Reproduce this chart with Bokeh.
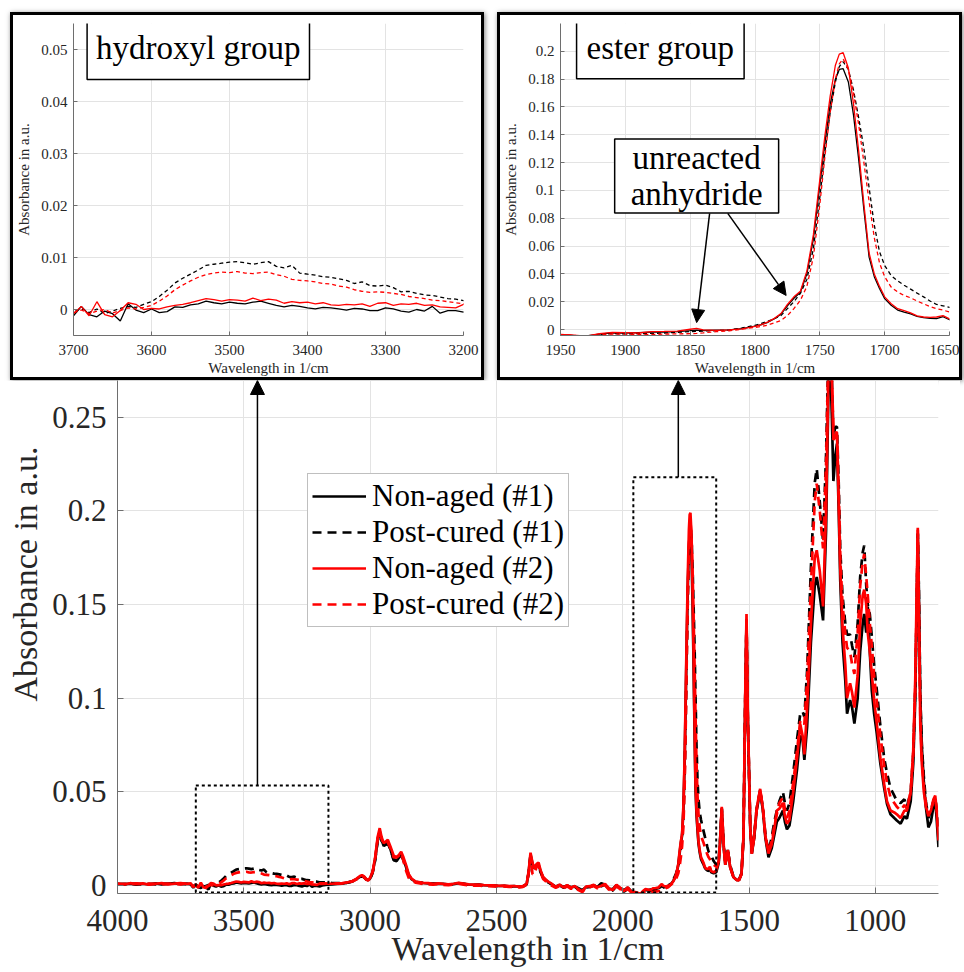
from bokeh.plotting import figure
from bokeh.layouts import row, column
from bokeh.models import (Range1d, FixedTicker, Label, Arrow, NormalHead, Legend,
                          LegendItem, ColumnDataSource, Title)
from bokeh.embed import file_html
from bokeh.resources import INLINE

# ---------------- data (wavenumber in 1/cm, absorbance in a.u.) ----------------
wn_a = [4000, 3975, 3950, 3925, 3900, 3875, 3850, 3825, 3800, 3775, 3750, 3725, 3710]
bs_a = [0.0008, 0.0006, 0.0010, 0.0004, 0.0009, 0.0005, 0.0011, 0.0006, 0.0009, 0.0012, 0.0007, 0.0010, 0.0006]
bd_a = [0.0006, 0.0008, 0.0007, 0.0010, 0.0005, 0.0009, 0.0006, 0.0010, 0.0008, 0.0011, 0.0009, 0.0007, 0.0004]
rs_a = [0.0010, 0.0005, 0.0012, 0.0007, 0.0011, 0.0004, 0.0009, 0.0012, 0.0006, 0.0010, 0.0013, 0.0008, 0.0011]
rd_a = [0.0007, 0.0009, 0.0005, 0.0011, 0.0006, 0.0010, 0.0008, 0.0005, 0.0010, 0.0008, 0.0006, 0.0011, 0.0007]

wn_b = [3700, 3690, 3680, 3670, 3660, 3650, 3640, 3630, 3620, 3610,
        3600, 3590, 3580, 3570, 3560, 3550, 3540, 3530, 3520, 3510,
        3500, 3490, 3480, 3470, 3460, 3450, 3440, 3430, 3420, 3410,
        3400, 3390, 3380, 3370, 3360, 3350, 3340, 3330, 3320, 3310,
        3300, 3290, 3280, 3270, 3260, 3250, 3240, 3230, 3220, 3210, 3200]
bs_b = [-0.0012, 0.0006, -0.0010, -0.0014, -0.0003, -0.0008, -0.0022, 0.0011, -0.0001, -0.0006,
        0.0001, -0.0006, -0.0004, 0.0005, 0.0004, 0.0009, 0.0011, 0.0016, 0.0013, 0.0011,
        0.0014, 0.0012, 0.0011, 0.0014, 0.0016, 0.0012, 0.0008, 0.0005, 0.0008, 0.0006,
        0.0003, 0.0001, 0.0004, 0.0003, 0.0001, -0.0001, 0.0002, 0.0001, -0.0002, -0.0002,
        0.0003, 0.0001, -0.0003, -0.0005, 0.0000, -0.0003, 0.0006, -0.0007, -0.0002, -0.0002, -0.0005]
bd_b = [-0.0004, 0.0002, -0.0006, 0.0001, -0.0008, -0.0003, 0.0002, 0.0006, 0.0004, 0.0010,
        0.0015, 0.0025, 0.0037, 0.0051, 0.0060, 0.0068, 0.0076, 0.0085, 0.0087, 0.0089,
        0.0091, 0.0092, 0.0090, 0.0087, 0.0090, 0.0092, 0.0083, 0.0080, 0.0085, 0.0070,
        0.0068, 0.0066, 0.0063, 0.0062, 0.0059, 0.0056, 0.0050, 0.0053, 0.0046, 0.0045,
        0.0047, 0.0042, 0.0034, 0.0035, 0.0031, 0.0028, 0.0027, 0.0024, 0.0021, 0.0020, 0.0017]
rs_b = [-0.0008, 0.0006, -0.0012, 0.0015, -0.0010, -0.0014, -0.0002, 0.0013, 0.0010, 0.0000,
        0.0002, 0.0001, 0.0005, 0.0008, 0.0010, 0.0013, 0.0017, 0.0021, 0.0019, 0.0016,
        0.0019, 0.0018, 0.0016, 0.0022, 0.0017, 0.0020, 0.0018, 0.0012, 0.0015, 0.0013,
        0.0014, 0.0011, 0.0013, 0.0009, 0.0008, 0.0010, 0.0009, 0.0011, 0.0006, 0.0012,
        0.0013, 0.0008, 0.0011, 0.0010, 0.0012, 0.0008, 0.0009, 0.0005, 0.0004, 0.0003, 0.0010]
rd_b = [-0.0006, -0.0001, -0.0008, -0.0003, 0.0000, -0.0007, -0.0002, 0.0003, 0.0001, 0.0004,
        0.0008, 0.0016, 0.0026, 0.0038, 0.0047, 0.0055, 0.0062, 0.0067, 0.0070, 0.0072,
        0.0071, 0.0073, 0.0070, 0.0069, 0.0071, 0.0072, 0.0067, 0.0064, 0.0058, 0.0056,
        0.0055, 0.0053, 0.0050, 0.0049, 0.0045, 0.0043, 0.0038, 0.0035, 0.0033, 0.0034,
        0.0033, 0.0031, 0.0029, 0.0025, 0.0023, 0.0021, 0.0018, 0.0017, 0.0015, 0.0013, 0.0011]

wn_c = [3190, 3170, 3150, 3130, 3110, 3090, 3070, 3055, 3040, 3032,
        3024, 3016, 3008, 3000, 2990, 2980, 2970, 2962, 2955, 2946,
        2938, 2930, 2920, 2907, 2895, 2885, 2877, 2868, 2858, 2847,
        2835, 2820, 2808, 2790, 2770, 2750, 2730, 2710, 2690, 2670,
        2650, 2630, 2610, 2590, 2570, 2550, 2530, 2510, 2490, 2470,
        2450, 2430, 2410, 2395, 2380, 2372, 2365, 2357, 2349, 2341,
        2333, 2325, 2315, 2307, 2295, 2280, 2265, 2250, 2235, 2220,
        2205, 2190, 2175, 2160, 2145, 2130, 2115, 2100, 2085, 2070,
        2055, 2040, 2025, 2010, 1995, 1980, 1965]
bs_c = [0.0000, 0.0004, 0.0006, 0.0008, 0.0010, 0.0015, 0.0022, 0.0033, 0.0047, 0.0052,
        0.0045, 0.0033, 0.0028, 0.0037, 0.0070, 0.0140, 0.0245, 0.0290, 0.0245, 0.0210,
        0.0220, 0.0230, 0.0195, 0.0135, 0.0130, 0.0150, 0.0165, 0.0140, 0.0100, 0.0055,
        0.0032, 0.0020, 0.0017, 0.0013, 0.0011, 0.0010, 0.0008, 0.0009, 0.0005, 0.0007,
        0.0012, 0.0009, 0.0005, 0.0003, 0.0004, 0.0001, 0.0000, -0.0001, -0.0003, -0.0002,
        -0.0005, -0.0004, -0.0007, -0.0005, 0.0008, 0.0075, 0.0165, 0.0115, 0.0095, 0.0110,
        0.0110, 0.0075, 0.0042, 0.0032, 0.0018, 0.0006, -0.0006, 0.0002, -0.0008, 0.0000,
        -0.0010, -0.0005, -0.0015, -0.0025, -0.0008, -0.0006, 0.0001, -0.0008, 0.0012, 0.0004,
        -0.0018, -0.0020, 0.0002, -0.0015, -0.0025, -0.0012, -0.0032]
bd_c = [0.0017, 0.0015, 0.0013, 0.0012, 0.0012, 0.0015, 0.0022, 0.0032, 0.0046, 0.0050,
        0.0044, 0.0032, 0.0027, 0.0035, 0.0068, 0.0135, 0.0238, 0.0280, 0.0240, 0.0210,
        0.0218, 0.0225, 0.0195, 0.0140, 0.0135, 0.0150, 0.0160, 0.0135, 0.0090, 0.0050,
        0.0030, 0.0018, 0.0016, 0.0012, 0.0010, 0.0008, 0.0009, 0.0006, 0.0004, 0.0007,
        0.0011, 0.0008, 0.0004, 0.0002, 0.0003, 0.0000, -0.0001, -0.0002, -0.0004, -0.0003,
        -0.0006, -0.0005, -0.0008, -0.0006, 0.0006, 0.0070, 0.0160, 0.0110, 0.0090, 0.0100,
        0.0100, 0.0070, 0.0040, 0.0030, 0.0016, 0.0004, -0.0009, 0.0001, -0.0012, -0.0003,
        -0.0014, -0.0006, -0.0022, -0.0030, -0.0010, -0.0008, 0.0000, -0.0012, -0.0004, 0.0005,
        -0.0020, -0.0028, -0.0002, -0.0018, -0.0034, -0.0015, -0.0038]
rs_c = [0.0008, 0.0010, 0.0009, 0.0011, 0.0012, 0.0016, 0.0024, 0.0035, 0.0050, 0.0055,
        0.0048, 0.0035, 0.0030, 0.0040, 0.0075, 0.0150, 0.0260, 0.0306, 0.0260, 0.0225,
        0.0235, 0.0244, 0.0210, 0.0160, 0.0150, 0.0165, 0.0180, 0.0150, 0.0110, 0.0060,
        0.0035, 0.0020, 0.0018, 0.0014, 0.0012, 0.0009, 0.0011, 0.0008, 0.0006, 0.0009,
        0.0014, 0.0010, 0.0006, 0.0004, 0.0005, 0.0002, 0.0001, 0.0000, -0.0002, -0.0001,
        -0.0004, -0.0003, -0.0006, -0.0004, 0.0010, 0.0080, 0.0175, 0.0120, 0.0090, 0.0115,
        0.0122, 0.0080, 0.0045, 0.0035, 0.0020, 0.0008, -0.0008, 0.0004, -0.0010, 0.0002,
        -0.0012, -0.0003, -0.0020, -0.0032, -0.0006, -0.0004, 0.0003, -0.0010, -0.0002, 0.0008,
        -0.0015, -0.0025, 0.0004, -0.0012, -0.0030, -0.0010, -0.0035]
rd_c = [0.0011, 0.0010, 0.0009, 0.0010, 0.0011, 0.0014, 0.0021, 0.0031, 0.0045, 0.0050,
        0.0043, 0.0031, 0.0026, 0.0036, 0.0072, 0.0145, 0.0250, 0.0290, 0.0250, 0.0220,
        0.0225, 0.0230, 0.0200, 0.0150, 0.0150, 0.0160, 0.0175, 0.0130, 0.0080, 0.0040,
        0.0025, 0.0015, 0.0012, 0.0008, 0.0006, 0.0004, 0.0007, 0.0003, 0.0001, 0.0005,
        0.0009, 0.0004, 0.0001, -0.0001, 0.0000, -0.0003, -0.0004, -0.0005, -0.0007, -0.0005,
        -0.0008, -0.0007, -0.0010, -0.0008, 0.0004, 0.0070, 0.0150, 0.0060, 0.0060, 0.0100,
        0.0105, 0.0070, 0.0035, 0.0025, 0.0010, -0.0002, -0.0012, -0.0003, -0.0016, -0.0005,
        -0.0018, -0.0010, -0.0025, -0.0035, -0.0012, -0.0010, -0.0003, -0.0015, -0.0006, 0.0002,
        -0.0022, -0.0030, -0.0004, -0.0020, -0.0036, -0.0018, -0.0040]

wn_d = [1950, 1940, 1930, 1920, 1910, 1900, 1890, 1880, 1870, 1860,
        1850, 1845, 1840, 1830, 1820, 1810, 1800, 1795, 1790, 1785,
        1780, 1775, 1770, 1765, 1760, 1755, 1750, 1746, 1742, 1738,
        1735, 1732, 1728, 1724, 1720, 1716, 1712, 1708, 1704, 1700,
        1695, 1690, 1685, 1680, 1675, 1670, 1665, 1660, 1655, 1650]
bs_d = [-0.0038, -0.0043, -0.0046, -0.0033, -0.0024, -0.0026, -0.0022, -0.0019, -0.0018, -0.0015,
        -0.0008, -0.0004, -0.0007, -0.0005, -0.0003, 0.0006, 0.0024, 0.0036, 0.0052, 0.0078,
        0.0110, 0.0170, 0.0225, 0.0268, 0.0400, 0.0650, 0.1040, 0.1350, 0.1620, 0.1800,
        0.1870, 0.1875, 0.1780, 0.1540, 0.1220, 0.0860, 0.0520, 0.0380, 0.0295, 0.0222,
        0.0175, 0.0140, 0.0125, 0.0112, 0.0095, 0.0085, 0.0080, 0.0078, 0.0092, 0.0070]
bd_d = [-0.0040, -0.0045, -0.0048, -0.0036, -0.0030, -0.0031, -0.0030, -0.0028, -0.0025, -0.0020,
        -0.0015, -0.0013, -0.0011, -0.0008, -0.0004, 0.0012, 0.0030, 0.0045, 0.0060, 0.0078,
        0.0100, 0.0150, 0.0200, 0.0260, 0.0360, 0.0580, 0.0950, 0.1280, 0.1560, 0.1780,
        0.1890, 0.1925, 0.1870, 0.1720, 0.1520, 0.1300, 0.1020, 0.0750, 0.0560, 0.0460,
        0.0388, 0.0350, 0.0318, 0.0290, 0.0262, 0.0235, 0.0205, 0.0180, 0.0170, 0.0160]
rs_d = [-0.0035, -0.0040, -0.0048, -0.0030, -0.0020, -0.0022, -0.0025, -0.0015, -0.0014, -0.0012,
        0.0002, 0.0008, -0.0002, -0.0006, -0.0002, 0.0005, 0.0022, 0.0035, 0.0055, 0.0080,
        0.0115, 0.0180, 0.0235, 0.0275, 0.0420, 0.0680, 0.1080, 0.1400, 0.1680, 0.1900,
        0.1980, 0.1990, 0.1880, 0.1620, 0.1280, 0.0900, 0.0550, 0.0400, 0.0310, 0.0235,
        0.0185, 0.0150, 0.0135, 0.0120, 0.0098, 0.0090, 0.0088, 0.0090, 0.0100, 0.0077]
rd_d = [-0.0036, -0.0042, -0.0050, -0.0038, -0.0032, -0.0034, -0.0036, -0.0035, -0.0033, -0.0031,
        -0.0030, -0.0028, -0.0024, -0.0015, -0.0010, 0.0003, 0.0015, 0.0022, 0.0032, 0.0048,
        0.0065, 0.0100, 0.0150, 0.0210, 0.0310, 0.0520, 0.0900, 0.1250, 0.1560, 0.1800,
        0.1910, 0.1945, 0.1870, 0.1700, 0.1470, 0.1200, 0.0920, 0.0660, 0.0480, 0.0380,
        0.0305, 0.0270, 0.0245, 0.0228, 0.0205, 0.0185, 0.0165, 0.0150, 0.0140, 0.0125]

wn_e = [1640, 1630, 1620, 1615, 1608, 1600, 1594, 1584, 1575, 1562,
        1550, 1540, 1530, 1522, 1515, 1510, 1505, 1495, 1489, 1480,
        1470, 1456, 1445, 1435, 1423, 1410, 1400, 1390, 1380, 1366,
        1358, 1350, 1340, 1325, 1310, 1297, 1288, 1281, 1270, 1255,
        1240, 1232, 1220, 1207, 1195, 1185, 1181, 1172, 1166, 1158,
        1152, 1145, 1139, 1130, 1119, 1112, 1100, 1092, 1083, 1070,
        1060, 1050, 1044, 1036, 1030, 1022, 1014, 1005, 994, 980,
        965, 954, 940, 925, 915, 900, 885, 875, 860, 850,
        842, 836, 832, 828, 822, 816, 808, 800, 790, 780,
        770, 763, 757, 750]
bs_e = [0.0065, 0.007, 0.012, 0.022, 0.041, 0.020, 0.011, 0.019, 0.010, 0.0045,
        0.003, 0.0028, 0.006, 0.025, 0.100, 0.142, 0.090, 0.030, 0.017, 0.025,
        0.040, 0.050, 0.040, 0.025, 0.015, 0.020, 0.027, 0.034, 0.036, 0.040,
        0.034, 0.030, 0.032, 0.045, 0.062, 0.080, 0.078, 0.067, 0.085, 0.130,
        0.160, 0.1647, 0.155, 0.1416, 0.190, 0.270, 0.290, 0.250, 0.216, 0.230,
        0.236, 0.200, 0.163, 0.130, 0.1095, 0.0917, 0.099, 0.095, 0.0864, 0.100,
        0.125, 0.140, 0.145, 0.135, 0.149, 0.125, 0.104, 0.092, 0.081, 0.065,
        0.052, 0.0436, 0.038, 0.036, 0.0347, 0.033, 0.037, 0.0356, 0.045, 0.065,
        0.100, 0.150, 0.188, 0.160, 0.100, 0.074, 0.055, 0.042, 0.031, 0.034,
        0.042, 0.046, 0.035, 0.0205]
bd_e = [0.013, 0.011, 0.014, 0.023, 0.041, 0.021, 0.012, 0.019, 0.011, 0.005,
        0.0035, 0.003, 0.0065, 0.026, 0.100, 0.140, 0.090, 0.031, 0.018, 0.026,
        0.041, 0.051, 0.041, 0.027, 0.018, 0.026, 0.034, 0.040, 0.045, 0.050,
        0.044, 0.040, 0.044, 0.060, 0.078, 0.092, 0.093, 0.090, 0.115, 0.170,
        0.215, 0.2226, 0.205, 0.184, 0.230, 0.290, 0.300, 0.270, 0.240, 0.245,
        0.245, 0.215, 0.180, 0.155, 0.140, 0.134, 0.134, 0.128, 0.122, 0.140,
        0.165, 0.178, 0.1816, 0.160, 0.150, 0.145, 0.133, 0.118, 0.104, 0.085,
        0.068, 0.060, 0.052, 0.048, 0.045, 0.044, 0.046, 0.042, 0.050, 0.070,
        0.105, 0.150, 0.188, 0.160, 0.100, 0.075, 0.058, 0.045, 0.036, 0.040,
        0.045, 0.047, 0.040, 0.030]
rs_e = [0.007, 0.008, 0.013, 0.023, 0.042, 0.021, 0.011, 0.019, 0.010, 0.0045,
        0.003, 0.0028, 0.006, 0.026, 0.102, 0.145, 0.092, 0.031, 0.017, 0.026,
        0.041, 0.0516, 0.041, 0.026, 0.017, 0.022, 0.030, 0.040, 0.041, 0.044,
        0.037, 0.033, 0.035, 0.050, 0.068, 0.086, 0.080, 0.070, 0.095, 0.140,
        0.175, 0.179, 0.168, 0.149, 0.200, 0.280, 0.300, 0.270, 0.238, 0.240,
        0.242, 0.205, 0.170, 0.138, 0.118, 0.100, 0.108, 0.103, 0.095, 0.112,
        0.140, 0.155, 0.158, 0.150, 0.135, 0.125, 0.113, 0.099, 0.086, 0.068,
        0.054, 0.045, 0.040, 0.039, 0.038, 0.036, 0.040, 0.040, 0.050, 0.072,
        0.110, 0.160, 0.191, 0.150, 0.085, 0.065, 0.050, 0.042, 0.038, 0.040,
        0.046, 0.048, 0.040, 0.024]
rd_e = [0.011, 0.010, 0.013, 0.022, 0.041, 0.020, 0.011, 0.019, 0.010, 0.0045,
        0.003, 0.0028, 0.006, 0.025, 0.100, 0.143, 0.091, 0.030, 0.017, 0.025,
        0.040, 0.051, 0.041, 0.026, 0.018, 0.024, 0.032, 0.038, 0.044, 0.047,
        0.041, 0.036, 0.040, 0.055, 0.072, 0.088, 0.088, 0.086, 0.110, 0.160,
        0.205, 0.2146, 0.200, 0.180, 0.225, 0.290, 0.305, 0.270, 0.245, 0.245,
        0.240, 0.210, 0.175, 0.150, 0.135, 0.127, 0.125, 0.118, 0.113, 0.135,
        0.160, 0.173, 0.177, 0.165, 0.155, 0.140, 0.128, 0.112, 0.098, 0.080,
        0.064, 0.055, 0.047, 0.044, 0.042, 0.040, 0.043, 0.041, 0.050, 0.070,
        0.105, 0.155, 0.190, 0.155, 0.090, 0.068, 0.053, 0.044, 0.037, 0.040,
        0.045, 0.047, 0.040, 0.028]

series_labels = ["Non-aged (#1)", "Post-cured (#1)", "Non-aged (#2)", "Post-cured (#2)"]

main_xticks = [4000, 3500, 3000, 2500, 2000, 1500, 1000]
main_yticks = [0, 0.05, 0.1, 0.15, 0.2, 0.25]
main_ylabels = ["0", "0.05", "0.1", "0.15", "0.2", "0.25"]
hyd_xticks = [3700, 3600, 3500, 3400, 3300, 3200]
hyd_yticks = [0, 0.01, 0.02, 0.03, 0.04, 0.05]
hyd_ylabels = ["0", "0.01", "0.02", "0.03", "0.04", "0.05"]
est_xticks = [1950, 1900, 1850, 1800, 1750, 1700, 1650]
est_yticks = [0, 0.02, 0.04, 0.06, 0.08, 0.1, 0.12, 0.14, 0.16, 0.18, 0.2]
est_ylabels = ["0", "0.02", "0.04", "0.06", "0.08", "0.1", "0.12", "0.14", "0.16", "0.18", "0.2"]

# zoom regions marked in the overview (wavenumber left/right, absorbance bottom/top)
zoom_left = [3690, 1958]
zoom_right = [3165, 1630]
zoom_bottom = [-0.0037, -0.0037]
zoom_top = [0.0534, 0.218]
zoom_arrow_x = [3446, 1780]

# ---------------- assemble ----------------
wn = wn_a + wn_b + wn_c + wn_d + wn_e
bs = bs_a + bs_b + bs_c + bs_d + bs_e
bd = bd_a + bd_b + bd_c + bd_d + bd_e
rs = rs_a + rs_b + rs_c + rs_d + rs_e
rd = rd_a + rd_b + rd_c + rd_d + rd_e
for name, arr in (("bs", bs), ("bd", bd), ("rs", rs), ("rd", rd)):
    assert len(arr) == len(wn), (name, len(arr), len(wn))

src = ColumnDataSource(dict(wn=wn, bs=bs, bd=bd, rs=rs, rd=rd))

SERIF = "Liberation Serif"
TXT = "#262626"
GRID = "#e3e3e3"
AXIS = "#6e6e6e"

series_style = [("bs", "black", "solid"), ("bd", "black", "dashed"),
                ("rs", "red", "solid"), ("rd", "red", "dashed")]

Y_MIN, Y_MAX = -0.0043, 0.2697


def style(p, xticks, yticks, ylabels, tick_px, standoff_y, standoff_x, tick_in):
    p.outline_line_color = None
    p.background_fill_color = "white"
    p.border_fill_color = "white"
    p.xaxis.ticker = FixedTicker(ticks=xticks)
    p.yaxis.ticker = FixedTicker(ticks=yticks)
    p.xaxis.major_label_overrides = {t: str(t) for t in xticks}
    p.yaxis.major_label_overrides = dict(zip(yticks, ylabels))
    for ax in (p.xaxis, p.yaxis):
        ax.major_label_text_font = SERIF
        ax.major_label_text_font_size = tick_px
        ax.major_label_text_color = TXT
        ax.axis_label_text_font = SERIF
        ax.axis_label_text_font_style = "normal"
        ax.axis_label_text_color = TXT
        ax.axis_line_color = AXIS
        ax.major_tick_line_color = AXIS
        ax.major_tick_in = tick_in
        ax.major_tick_out = 0
        ax.minor_tick_line_color = None
    p.yaxis.major_label_standoff = standoff_y
    p.xaxis.major_label_standoff = standoff_x
    p.xgrid.ticker = FixedTicker(ticks=xticks)
    p.ygrid.ticker = FixedTicker(ticks=yticks)
    p.grid.grid_line_color = GRID
    p.grid.grid_line_width = 1


# ---------------- main overview ----------------
main = figure(width=960, height=592, x_range=Range1d(4000, 750), y_range=Range1d(Y_MIN, Y_MAX),
              output_backend="svg", toolbar_location=None,
              min_border_left=117, min_border_right=22, min_border_top=0, min_border_bottom=79)
style(main, main_xticks, main_yticks, main_ylabels, "31px", 11, 16, 6)
main.xaxis.axis_label = "Wavelength in 1/cm"
main.xaxis.axis_label_text_font_size = "34px"
main.xaxis.axis_label_standoff = -4

main.add_layout(Title(text="Absorbance in a.u.", align="left", offset=192, vertical_align="middle",
                      text_font=SERIF, text_font_size="34px", text_font_style="normal",
                      text_color=TXT), "left")

renderers = []
for key, color, dash in series_style:
    r = main.line("wn", key, source=src, line_color=color, line_width=2.7,
                  line_dash=("solid" if dash == "solid" else "9 6"))
    renderers.append(r)

main.quad(left=zoom_left, right=zoom_right, bottom=zoom_bottom, top=zoom_top,
          fill_color=None, line_color="black", line_width=2, line_dash="3 3")
for xm, yt in zip(zoom_arrow_x, zoom_top):
    main.add_layout(Arrow(end=NormalHead(size=14, fill_color="black", line_color="black"),
                          x_start=xm, y_start=yt, x_end=xm, y_end=Y_MAX,
                          line_color="black", line_width=1.5))

legend = Legend(items=[LegendItem(label=lab, renderers=[r]) for lab, r in zip(series_labels, renderers)],
                location=(190, 266))
legend.label_text_font = SERIF
legend.label_text_font_size = "31px"
legend.label_text_color = "black"
legend.glyph_width = 54
legend.glyph_height = 30
legend.label_standoff = 6
legend.spacing = 0
legend.padding = 4
legend.margin = 0
legend.border_line_color = "#808080"
legend.border_line_width = 1
legend.background_fill_alpha = 1
main.add_layout(legend)

# ---------------- insets ----------------
box_css = {"border": "3px solid black", "box-shadow": "1px 1px 5px rgba(0,0,0,0.5)"}


def inset(xr, yr, xticks, yticks, ylabels, w, left, right):
    p = figure(width=w, height=368, x_range=Range1d(*xr), y_range=Range1d(*yr),
               output_backend="svg", toolbar_location=None,
               min_border_left=left, min_border_right=right, min_border_top=8, min_border_bottom=48,
               styles=box_css)
    style(p, xticks, yticks, ylabels, "15px", 6, 9, 4)
    p.xaxis.axis_label = "Wavelength in 1/cm"
    p.yaxis.axis_label = "Absorbance in a.u."
    p.xaxis.axis_label_text_font_size = "15px"
    p.yaxis.axis_label_text_font_size = "15px"
    p.xaxis.axis_label_standoff = 2
    p.yaxis.axis_label_standoff = 6
    for key, color, dash in series_style:
        p.line("wn", key, source=src, line_color=color, line_width=1.3,
               line_dash=("solid" if dash == "solid" else "4 3"))
    return p


label_kw = dict(text_align="center", text_baseline="middle", text_font=SERIF,
                text_font_size="33px", text_color="black", background_fill_color="white",
                border_line_color="black", border_line_width=1.5)

hyd = inset((3700, 3200), (-0.005, 0.055), hyd_xticks, hyd_yticks, hyd_ylabels, 474, 54, 24)
hyd.add_layout(Label(x=3540, y=0.0502, text="hydroxyl group", padding=(9, 13), **label_kw))

est = inset((1950, 1650), (-0.0043, 0.22), est_xticks, est_yticks, est_ylabels, 465, 53, 16)
est.add_layout(Label(x=1873, y=0.2025, text="ester group", padding=(10, 13), **label_kw))
est.add_layout(Label(x=1845, y=0.1104, text="unreacted\nanhydride", padding=(16, 1),
                     text_line_height=1.0, **label_kw))
est.add_layout(Arrow(end=NormalHead(size=13, fill_color="black", line_color="black"),
                     x_start=1835, y_start=0.0835, x_end=1845, y_end=0.005,
                     line_color="black", line_width=1.5))
est.add_layout(Arrow(end=NormalHead(size=13, fill_color="black", line_color="black"),
                     x_start=1821, y_start=0.0835, x_end=1776, y_end=0.0245,
                     line_color="black", line_width=1.5))

page = column(row(hyd, est, spacing=13, margin=(12, 0, 0, 10)), main, spacing=0)

open("out.html", "w").write(file_html(page, INLINE))
